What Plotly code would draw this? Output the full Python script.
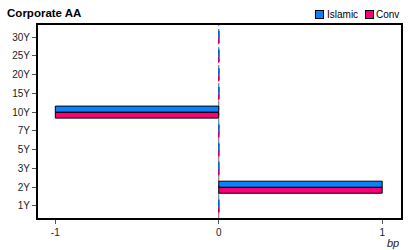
import plotly.graph_objects as go

categories = ["1Y", "2Y", "3Y", "5Y", "7Y", "10Y", "15Y", "20Y", "25Y", "30Y"]
islamic = [0, 1, 0, 0, 0, -1, 0, 0, 0, 0]
conv = [0, 1, 0, 0, 0, -1, 0, 0, 0, 0]
x_ticks = [-1, 0, 1]

BLUE = "#0A80FA"
PINK = "#FA0078"
FONT = "Liberation Sans, Arial, sans-serif"
bargap = 0.36
half = (1 - bargap) / 4

idx = list(range(len(categories)))
fig = go.Figure()

# Conv first so it sits below Islamic in each group
fig.add_trace(go.Bar(y=idx, x=conv, orientation="h", name="Conv",
                     marker=dict(color=PINK, line=dict(color="black", width=1))))
fig.add_trace(go.Bar(y=idx, x=islamic, orientation="h", name="Islamic",
                     marker=dict(color=BLUE, line=dict(color="black", width=1))))

# zero-valued bars drawn as thin coloured ticks at 0
for vals, col, off in [(conv, PINK, -half), (islamic, BLUE, half)]:
    zi = [i for i, v in enumerate(vals) if v == 0]
    fig.add_trace(go.Scatter(
        x=[vals[i] for i in zi], y=[i + off for i in zi], mode="markers",
        marker=dict(symbol="line-ns", size=6, line=dict(color=col, width=1)),
        showlegend=False, hoverinfo="skip", cliponaxis=False))

fig.add_vline(x=0, line=dict(color="#666", width=1, dash="dashdot"), layer="below")

fig.update_layout(
    width=415, height=250,
    margin=dict(l=36, r=12, t=25, b=32),
    paper_bgcolor="white", plot_bgcolor="white",
    barmode="group", bargap=bargap, bargroupgap=0,
    font=dict(family=FONT, size=10, color="#222"),
    title=dict(text="<b>Corporate AA</b>", x=0.017, xanchor="left",
               y=0.948, yanchor="middle", font=dict(size=11.5, color="black")),
    showlegend=False,
)
fig.update_xaxes(range=[-1.106, 1.115], tickvals=x_ticks, ticktext=[str(v) for v in x_ticks],
                 showgrid=False, zeroline=False, showline=True, linecolor="black",
                 linewidth=2, mirror=True, ticks="outside", ticklen=4, tickcolor="#555")
fig.update_yaxes(range=[-0.64, 9.64], tickvals=idx, ticktext=categories,
                 showgrid=False, zeroline=False, showline=True, linecolor="black",
                 linewidth=2, mirror=True, ticks="outside", ticklen=4, tickcolor="#555")
fig.add_annotation(text="<i>bp</i>", x=1, y=0, xref="paper", yref="paper",
                   xanchor="right", yanchor="top", yshift=-17, xshift=0, showarrow=False,
                   font=dict(size=11, color="#222"))

# legend (swatch + label), drawn as annotations
for name, col, sw_shift, tx_shift in [("Islamic", BLUE, -86, -76), ("Conv", PINK, -36, -27)]:
    fig.add_annotation(text=" ", x=1, y=1, xref="paper", yref="paper", xanchor="left",
                       yanchor="middle", xshift=sw_shift, yshift=11, showarrow=False,
                       width=7, height=7, bgcolor=col, bordercolor="black",
                       borderwidth=1, borderpad=0, font=dict(size=6))
    fig.add_annotation(text=name, x=1, y=1, xref="paper", yref="paper", xanchor="left",
                       yanchor="middle", xshift=tx_shift, yshift=11, showarrow=False,
                       font=dict(size=10, color="black"))

fig.write_html("out.html")
